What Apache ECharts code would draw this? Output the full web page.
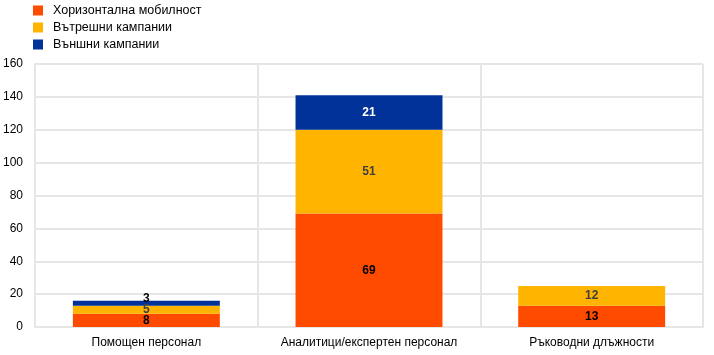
<!DOCTYPE html>
<html><head><meta charset="utf-8">
<script src="https://cdn.jsdelivr.net/npm/echarts@6/dist/echarts.min.js"></script>
<style>html,body{margin:0;padding:0;background:#fff}#c{width:714px;height:355px}</style>
</head><body><div id="c"></div>
<script>
const categories = ['Помощен персонал', 'Аналитици/експертен персонал', 'Ръководни длъжности'];
const seriesNames = ['Хоризонтална мобилност', 'Вътрешни кампании', 'Външни кампании'];
const horizontal = [8, 69, 13];
const internal = [5, 51, 12];
const external = [3, 21, null];
const yTicks = [0, 20, 40, 60, 80, 100, 120, 140, 160];

const colors = ['#FF4B00', '#FFB400', '#003299'];
const labelColors = ['#000000', '#404040', '#ffffff'];
const font = 'Liberation Sans, Arial, sans-serif';

function mk(name, data, i) {
  return {
    name: name, type: 'bar', stack: 's', barWidth: '66%',
    itemStyle: { color: colors[i] },
    label: { show: true, position: 'inside', color: labelColors[i], fontWeight: 'bold', fontSize: 12, fontFamily: font,
      formatter: p => p.value == null ? '' : p.value },
    data: data.map((v, k) => {
      if (i === 2 && k === 0) return { value: v, label: { position: 'top', distance: -4, color: '#000' } };
      return v;
    })
  };
}

const chart = echarts.init(document.getElementById('c'), null, { renderer: 'canvas' });
chart.setOption({
  animation: false,
  textStyle: { fontFamily: font },
  legend: {
    orient: 'vertical', left: 33, top: 4, padding: 0, itemWidth: 10, itemHeight: 10, itemGap: 4,
    icon: 'rect', textStyle: { fontSize: 12.5, color: '#000', fontFamily: font, padding: [0, 0, 0, 5] },
    data: seriesNames
  },
  grid: { left: 35, right: 11, top: 64, bottom: 28, containLabel: false },
  xAxis: {
    type: 'category', data: categories,
    axisLine: { show: true, lineStyle: { color: '#e6e6e6', width: 2 } },
    axisTick: { show: false },
    splitLine: { show: true, interval: 0, lineStyle: { color: '#e6e6e6', width: 2 } },
    axisLabel: { color: '#000', fontSize: 12, fontFamily: font, margin: 10, interval: 0 }
  },
  yAxis: {
    type: 'value', min: 0, max: 160, interval: 20,
    axisLine: { show: true, lineStyle: { color: '#e6e6e6', width: 2 } },
    axisTick: { show: false },
    splitLine: { show: true, lineStyle: { color: '#e6e6e6', width: 2 } },
    axisLabel: { color: '#000', fontSize: 12, fontFamily: font, margin: 12,
      formatter: v => yTicks.includes(v) ? String(v) : '' }
  },
  series: [mk(seriesNames[0], horizontal, 0), mk(seriesNames[1], internal, 1), mk(seriesNames[2], external, 2)]
});
</script></body></html>
